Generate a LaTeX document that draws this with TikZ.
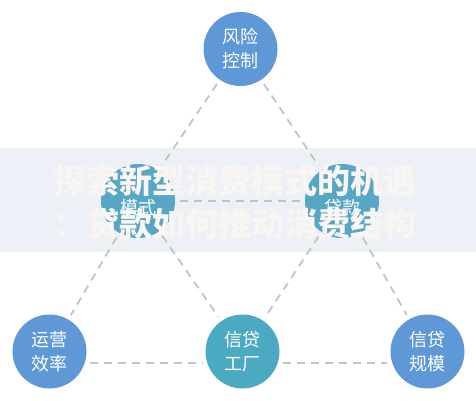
\documentclass[tikz,border=0pt]{standalone}
\usepackage{fontspec}
\setmainfont{Noto Sans CJK SC}
\usepackage{xcolor}
\usepackage{tikz}
\usetikzlibrary{positioning}

\definecolor{capblue}{HTML}{5E98D6}
\definecolor{midteal}{HTML}{56A6C4}
\definecolor{factteal}{HTML}{4BAAC1}
\definecolor{linkgray}{HTML}{C2C3C8}
\definecolor{bandgray}{HTML}{EEF0F7}
\definecolor{titlecream}{HTML}{F9F5F2}

\begin{document}
\begin{tikzpicture}[x=1pt, y=-1pt,
			bubble/.style={circle, minimum size=74pt, inner sep=0pt, text=white, align=center, font=\fontsize{18}{24}\selectfont},
			link/.style={draw=linkgray, line width=1.8pt, dash pattern=on 8pt off 6pt, shorten <=5pt, shorten >=5pt},
			headline/.style={text=titlecream, align=center, font=\fontsize{33}{43}\selectfont\bfseries}]
			
			\useasboundingbox (0,0) rectangle (476,400);
			\fill[bandgray] (0,148) rectangle (476,252);
			
			\node[bubble, fill=capblue] (risk) at (240.5,49) {风险\\控制};
			\node[bubble, fill=midteal] (mode) at (138,201) {\strut\\[-12pt]模式};
			\node[bubble, fill=midteal] (loan) at (342,201) {\strut\\[-12pt]贷款};
			\node[bubble, fill=capblue] (ops) at (49.5,351.5) {运营\\效率};
			\node[bubble, fill=factteal] (factory) at (242.5,351.5) {信贷\\工厂};
			\node[bubble, fill=capblue] (scale) at (427.5,351.5) {信贷\\规模};
			
			\draw[link] (risk) -- (mode);
			\draw[link] (mode) -- (ops);
			\draw[link] (risk) -- (loan);
			\draw[link] (loan) -- (scale);
			\draw[link] (mode) -- (loan);
			\draw[link] (mode) -- (factory);
			\draw[link] (loan) -- (factory);
			\draw[link] (ops.-18) -- (factory.198);
			\draw[link] (factory.-18) -- (scale.198);
			
			\node[headline] (title) at (235,202) {探索新型消费模式的机遇\\：贷款如何推动消费结构};
			
		\end{tikzpicture}
\end{document}
